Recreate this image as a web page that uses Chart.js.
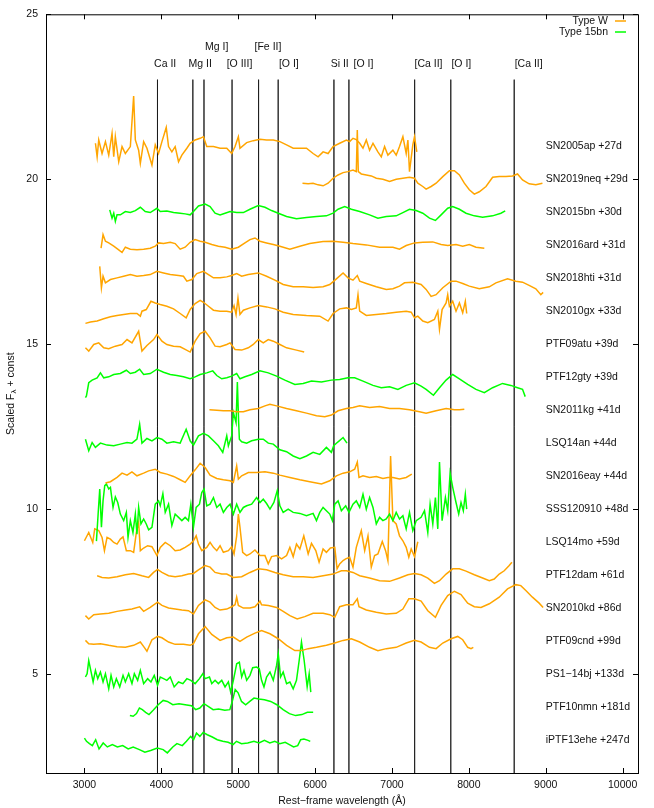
<!DOCTYPE html>
<html>
<head>
<meta charset="utf-8">
<script src="https://cdn.jsdelivr.net/npm/chart.js@4"></script>
<style>
  html, body { margin: 0; padding: 0; background: #fff; }
</style>
</head>
<body>
<canvas id="myChart" width="654" height="808"></canvas>
<script>
'use strict';

// tick values
const xTicks = [3000, 4000, 5000, 6000, 7000, 8000, 9000, 10000];
const yTicks = [5, 10, 15, 20, 25];

// marker lines (rest wavelength) and their labels
const lineWave = [3950, 4410, 4555, 4920, 5265, 5520, 6245, 6440, 7295, 7765, 8590];
const lineTop = 23.02;
const lineLabelText = ['Ca II', 'Mg II', 'Mg I]', '[O III]', '[Fe II]', '[O I]', 'Si II', '[O I]', '[Ca II]', '[O I]', '[Ca II]'];
const lineLabelWave = [4050, 4505, 4720, 5017, 5387, 5658, 6320, 6630, 7475, 7902, 8778];
const lineLabelLevel = [23.5, 23.5, 24.0, 23.5, 24.0, 23.5, 23.5, 23.5, 23.5, 23.5, 23.5];

// spectra: names, type, label level (offset const)
const specNames = ['SN2005ap +27d', 'SN2019neq +29d', 'SN2015bn +30d', 'SN2016ard +31d', 'SN2018hti +31d',
  'SN2010gx +33d', 'PTF09atu +39d', 'PTF12gty +39d', 'SN2011kg +41d', 'LSQ14an +44d', 'SN2016eay +44d',
  'SSS120910 +48d', 'LSQ14mo +59d', 'PTF12dam +61d', 'SN2010kd +86d', 'PTF09cnd +99d', 'PS1\u221214bj +133d',
  'PTF10nmn +181d', 'iPTF13ehe +247d'];
const specTypes = ['W', 'W', '15bn', 'W', 'W', 'W', 'W', '15bn', 'W', '15bn', 'W',
  '15bn', 'W', 'W', 'W', 'W', '15bn', '15bn', '15bn'];
const specLevels = [21, 20, 19, 18, 17, 16, 15, 14, 13, 12, 11, 10, 9, 8, 7, 6, 5, 4, 3];
const labelWave = 9000;

const sn2005apWave = [3143, 3165, 3186, 3229, 3273, 3316, 3359, 3381, 3402, 3446,
  3489, 3532, 3597, 3640, 3662, 3705, 3727, 3770, 3813, 3878,
  3921, 3964, 4008, 4064, 4094, 4137, 4180, 4224, 4267, 4332,
  4375, 4440, 4505, 4548, 4591, 4678, 4764, 4851, 4915, 4959,
  5002, 5023, 5110, 5196, 5283, 5369, 5456, 5542, 5629, 5715,
  5802, 5888, 5974, 6039, 6104, 6169, 6234, 6320, 6407, 6450,
  6493, 6536, 6580, 6623, 6666, 6709, 6753, 6817, 6861, 6904,
  6947, 7012, 7055, 7098, 7142, 7185, 7207, 7228, 7271, 7293,
  7323];
const sn2005apFlux = [21.09, 20.68, 21.19, 20.78, 21.14, 20.73, 21.39, 20.68, 21.29, 20.53,
  20.99, 20.78, 20.99, 22.52, 21.19, 20.88, 20.48, 21.14, 20.94, 20.43,
  21.04, 20.78, 21.14, 21.57, 20.99, 20.83, 20.99, 20.53, 20.73, 20.94,
  21.09, 21.19, 21.24, 21.29, 20.99, 20.99, 20.94, 20.94, 20.78, 20.99,
  21.29, 20.94, 21.11, 21.17, 21.21, 21.19, 21.19, 21.14, 21.04, 20.94,
  20.94, 20.94, 20.78, 20.68, 20.83, 20.78, 20.99, 21.09, 21.19, 21.14,
  21.24, 21.2, 21.09, 20.94, 21.19, 20.88, 21.09, 20.83, 20.68, 20.99,
  20.73, 20.88, 20.73, 20.99, 21.29, 20.78, 21.19, 20.23, 21.04, 21.29,
  20.83];

const sn2019neqWave = [5836, 5910, 5974, 6039, 6104, 6169, 6234, 6299, 6364, 6428,
  6493, 6536, 6549, 6562, 6601, 6666, 6731, 6796, 6882, 6969,
  7055, 7142, 7228, 7293, 7336, 7401, 7444, 7509, 7574, 7661,
  7747, 7812, 7877, 7941, 8006, 8071, 8136, 8223, 8309, 8395,
  8482, 8568, 8633, 8698, 8784, 8871, 8957];
const sn2019neqFlux = [19.88, 19.86, 19.88, 19.83, 19.80, 19.88, 20.03, 20.13, 20.20, 20.23,
  20.28, 20.23, 21.49, 20.23, 20.16, 20.13, 20.10, 20.03, 20.00, 19.93,
  20.00, 20.03, 20.06, 20.03, 19.88, 19.78, 19.70, 19.78, 19.88, 20.08,
  20.26, 20.26, 20.13, 19.88, 19.68, 19.55, 19.62, 19.78, 20.06, 20.08,
  20.08, 20.10, 20.16, 19.98, 19.86, 19.83, 19.88];

const sn2015bnWave = [3329, 3359, 3381, 3402, 3424, 3467, 3532, 3597, 3662, 3727,
  3791, 3856, 3943, 3986, 4072, 4159, 4245, 4310, 4375, 4418,
  4483, 4570, 4634, 4699, 4764, 4829, 4894, 4980, 5067, 5153,
  5261, 5348, 5434, 5521, 5629, 5758, 5888, 6018, 6147, 6234,
  6299, 6385, 6472, 6580, 6709, 6817, 6926, 7055, 7142, 7228,
  7315, 7401, 7488, 7565, 7639, 7725, 7790, 7877, 7963, 8071,
  8179, 8309, 8417, 8473];
const sn2015bnFlux = [19.07, 18.82, 18.97, 18.72, 18.92, 18.92, 19.02, 18.99, 19.05, 19.15,
  19.02, 18.99, 19.12, 19.02, 19.04, 18.99, 18.97, 18.95, 18.92, 19.02,
  19.19, 19.25, 19.17, 18.97, 18.92, 18.97, 19.02, 18.99, 18.99, 19.09,
  19.20, 19.15, 19.05, 18.97, 18.87, 18.80, 18.84, 18.87, 18.89, 18.97,
  19.09, 19.17, 19.09, 19.02, 18.92, 18.82, 18.87, 18.89, 18.99, 19.09,
  19.05, 18.97, 18.82, 18.75, 18.92, 19.12, 19.17, 19.09, 18.97, 18.89,
  18.85, 18.89, 18.97, 19.04];

const sn2016ardWave = [3216, 3242, 3273, 3316, 3381, 3446, 3489, 3532, 3597, 3683,
  3770, 3856, 3921, 3964, 4029, 4116, 4180, 4245, 4310, 4375,
  4440, 4505, 4570, 4656, 4742, 4829, 4915, 5002, 5088, 5153,
  5218, 5283, 5369, 5456, 5542, 5672, 5802, 5931, 6104, 6234,
  6364, 6493, 6666, 6839, 7012, 7098, 7185, 7293, 7401, 7531,
  7639, 7725, 7833, 7920, 8006, 8093, 8201];
const sn2016ardFlux = [17.91, 18.32, 18.12, 18.07, 17.97, 17.86, 17.78, 17.94, 17.88, 17.86,
  17.88, 17.91, 17.97, 18.07, 18.05, 18.09, 18.05, 17.88, 17.94, 18.09,
  18.17, 18.12, 18.09, 18.02, 17.97, 17.94, 17.88, 17.94, 18.07, 18.17,
  18.22, 18.12, 18.07, 18.02, 17.97, 17.88, 17.97, 18.05, 18.11, 18.12,
  18.09, 18.05, 18.01, 17.94, 17.94, 17.88, 17.99, 18.07, 18.09, 18.10,
  18.02, 17.99, 18.02, 17.97, 18.02, 17.94, 17.91];

const sn2018htiWave = [3199, 3221, 3242, 3273, 3338, 3424, 3510, 3597, 3683, 3770,
  3856, 3943, 4029, 4116, 4224, 4288, 4332, 4397, 4461, 4548,
  4613, 4678, 4764, 4851, 4915, 4980, 5045, 5131, 5261, 5369,
  5477, 5585, 5715, 5845, 5974, 6104, 6191, 6277, 6364, 6428,
  6493, 6549, 6580, 6666, 6796, 6926, 7012, 7098, 7163, 7271,
  7379, 7444, 7509, 7574, 7661, 7769, 7833, 7920, 8006, 8136,
  8266, 8352, 8503, 8611, 8698, 8784, 8871, 8936, 8966];
const sn2018htiFlux = [17.36, 16.71, 17.06, 16.86, 16.96, 17.01, 17.06, 17.11, 17.06, 17.08,
  17.11, 17.21, 17.16, 17.11, 17.08, 17.06, 16.91, 16.96, 17.14, 17.21,
  17.11, 17.01, 17.01, 17.04, 17.08, 17.14, 17.06, 17.11, 17.16, 17.06,
  16.94, 16.81, 16.74, 16.74, 16.72, 16.74, 16.81, 16.98, 17.16, 17.01,
  16.94, 17.08, 16.91, 16.84, 16.74, 16.66, 16.68, 16.76, 16.86, 16.88,
  16.81, 16.66, 16.45, 16.50, 16.71, 16.91, 16.91, 16.84, 16.76, 16.68,
  16.74, 16.86, 16.98, 16.91, 16.88, 16.78, 16.68, 16.50, 16.57];

const sn2010gxWave = [3013, 3078, 3165, 3251, 3338, 3424, 3510, 3597, 3683, 3727,
  3748, 3804, 3865, 3921, 3986, 4072, 4159, 4245, 4323, 4375,
  4440, 4505, 4548, 4613, 4678, 4764, 4851, 4915, 4946, 4972,
  4997, 5023, 5067, 5153, 5261, 5369, 5477, 5585, 5715, 5888,
  6061, 6169, 6234, 6320, 6407, 6472, 6536, 6558, 6580, 6666,
  6796, 6926, 7055, 7185, 7250, 7293, 7336, 7401, 7466, 7552,
  7596, 7618, 7652, 7704, 7725, 7747, 7790, 7833, 7877, 7920,
  7954, 7972];
const sn2010gxFlux = [15.63, 15.67, 15.70, 15.77, 15.83, 15.87, 15.90, 15.93, 15.93, 15.85,
  16.00, 16.05, 16.30, 16.25, 16.20, 16.15, 16.07, 15.93, 15.80, 16.05,
  16.23, 16.33, 16.27, 16.15, 16.03, 16.00, 16.00, 15.97, 16.17, 15.90,
  16.40, 15.90, 16.03, 16.10, 16.17, 16.13, 16.07, 15.97, 15.90, 15.87,
  15.85, 15.70, 15.93, 16.07, 16.10, 16.05, 16.10, 16.50, 16.00, 15.87,
  15.90, 15.93, 15.97, 16.00, 15.97, 15.80, 15.85, 15.70, 15.65, 15.75,
  16.00, 15.45, 16.05, 16.25, 16.50, 16.15, 16.30, 16.00, 16.25, 15.95,
  16.30, 15.93];

const ptf09atuWave = [3013, 3056, 3121, 3186, 3251, 3316, 3402, 3489, 3554, 3618,
  3705, 3748, 3813, 3899, 3943, 4008, 4072, 4159, 4245, 4310,
  4375, 4440, 4505, 4570, 4634, 4699, 4764, 4851, 4894, 4959,
  5045, 5131, 5196, 5261, 5326, 5391, 5456, 5542, 5629, 5758,
  5858];
const ptf09atuFlux = [14.89, 14.79, 14.99, 15.04, 14.89, 14.86, 14.94, 14.99, 15.14, 15.04,
  15.39, 14.79, 14.96, 15.14, 15.29, 15.09, 14.99, 14.94, 14.92, 14.84,
  14.76, 15.09, 15.32, 15.39, 15.19, 14.94, 14.92, 14.99, 15.04, 14.84,
  14.82, 14.89, 14.99, 15.14, 15.04, 15.14, 15.09, 14.99, 14.89, 14.82,
  14.76];

const ptf12gtyWave = [3013, 3026, 3056, 3100, 3165, 3208, 3251, 3316, 3381, 3467,
  3545, 3597, 3662, 3718, 3770, 3856, 3943, 4029, 4116, 4202,
  4288, 4375, 4440, 4505, 4591, 4669, 4721, 4786, 4851, 4915,
  4980, 5023, 5088, 5175, 5283, 5391, 5499, 5607, 5737, 5845,
  5953, 6083, 6212, 6320, 6428, 6515, 6623, 6753, 6861, 6969,
  7077, 7185, 7293, 7379, 7444, 7539, 7618, 7704, 7790, 7877,
  7985, 8093, 8201, 8309, 8438, 8546, 8633, 8698, 8733];
const ptf12gtyFlux = [13.38, 13.43, 13.83, 13.91, 13.98, 14.13, 13.98, 14.01, 14.08, 14.11,
  14.21, 14.11, 14.15, 14.24, 14.08, 14.11, 14.24, 14.15, 14.08, 14.05,
  14.01, 13.95, 14.01, 14.08, 14.13, 14.19, 14.05, 13.95, 13.98, 14.03,
  14.11, 13.95, 14.01, 14.08, 14.19, 14.13, 14.03, 13.91, 13.78, 13.81,
  13.88, 13.85, 13.91, 13.93, 13.98, 13.98, 13.88, 13.75, 13.68, 13.71,
  13.63, 13.75, 13.83, 13.73, 13.63, 13.45, 13.68, 13.91, 14.08, 13.95,
  13.78, 13.63, 13.53, 13.68, 13.81, 13.75, 13.68, 13.63, 13.41];

const sn2011kgWave = [4626, 4721, 4807, 4894, 4980, 5067, 5153, 5261, 5348, 5413,
  5499, 5629, 5758, 5888, 6018, 6126, 6212, 6299, 6407, 6493,
  6580, 6709, 6839, 6969, 7098, 7228, 7358, 7444, 7574, 7704,
  7812, 7877, 7941];
const sn2011kgFlux = [13.01, 13.00, 12.98, 12.98, 12.95, 12.95, 13.01, 13.05, 13.13, 13.18,
  13.13, 13.05, 12.98, 12.91, 12.83, 12.80, 12.85, 12.98, 13.05, 13.08,
  13.13, 13.08, 13.11, 13.05, 13.05, 13.01, 12.95, 12.91, 12.98, 13.05,
  13.01, 13.01, 13.03];

const lsq14anWave = [3013, 3056, 3100, 3143, 3208, 3294, 3381, 3467, 3554, 3618,
  3683, 3718, 3748, 3813, 3878, 3943, 4008, 4072, 4159, 4245,
  4323, 4375, 4418, 4483, 4548, 4613, 4678, 4742, 4799, 4851,
  4872, 4915, 4937, 4972, 4989, 5006, 5015, 5045, 5110, 5175,
  5261, 5326, 5391, 5456, 5542, 5629, 5715, 5802, 5888, 5974,
  6061, 6147, 6212, 6242, 6299, 6364, 6415];
const lsq14anFlux = [12.12, 11.77, 12.02, 11.87, 12.00, 11.94, 11.92, 11.97, 12.02, 12.00,
  12.12, 12.57, 12.00, 12.14, 12.07, 12.17, 12.12, 12.00, 12.04, 12.00,
  12.42, 12.07, 11.94, 12.22, 12.30, 12.22, 12.07, 11.92, 11.72, 12.22,
  11.92, 12.22, 12.93, 12.62, 13.85, 12.62, 12.12, 12.04, 12.00, 12.07,
  12.12, 12.12, 12.00, 11.97, 11.80, 11.74, 11.61, 11.53, 11.61, 11.72,
  11.66, 11.87, 11.72, 11.92, 12.04, 12.17, 12.00];

const sn2016eayWave = [3273, 3338, 3424, 3489, 3554, 3618, 3683, 3770, 3835, 3921,
  3986, 4072, 4159, 4245, 4310, 4375, 4440, 4505, 4570, 4634,
  4721, 4807, 4894, 4937, 4980, 5002, 5045, 5131, 5239, 5348,
  5456, 5542, 5672, 5802, 5931, 6083, 6191, 6277, 6364, 6450,
  6515, 6549, 6571, 6623, 6709, 6796, 6882, 6947, 7012, 7098,
  7185, 7258];
const sn2016eayFlux = [10.79, 10.83, 10.96, 11.09, 11.03, 11.13, 11.01, 11.09, 11.16, 11.21,
  11.11, 11.06, 10.99, 10.89, 10.81, 11.01, 11.19, 11.39, 11.26, 11.03,
  10.93, 10.89, 10.86, 10.81, 11.31, 10.91, 11.01, 11.11, 11.11, 11.13,
  11.09, 11.03, 10.96, 10.89, 10.83, 10.76, 10.86, 11.01, 11.09, 11.13,
  11.21, 11.43, 10.96, 11.01, 10.96, 10.99, 10.93, 10.96, 10.96, 10.91,
  10.96, 11.06];

const sss120910Wave = [3156, 3178, 3199, 3221, 3242, 3264, 3286, 3316, 3338, 3372,
  3402, 3433, 3467, 3510, 3545, 3567, 3597, 3631, 3662, 3683,
  3705, 3735, 3770, 3804, 3835, 3878, 3921, 3964, 3986, 4020,
  4051, 4094, 4137, 4180, 4224, 4267, 4310, 4353, 4384, 4418,
  4453, 4496, 4526, 4556, 4591, 4634, 4678, 4721, 4764, 4807,
  4851, 4894, 4937, 4980, 5023, 5067, 5110, 5175, 5239, 5283,
  5326, 5369, 5413, 5464, 5508, 5542, 5585, 5650, 5715, 5802,
  5888, 5974, 6018, 6061, 6104, 6147, 6191, 6225, 6256, 6299,
  6342, 6398, 6441, 6493, 6536, 6580, 6623, 6666, 6709, 6753,
  6796, 6839, 6882, 6926, 6969, 7012, 7055, 7098, 7142, 7185,
  7228, 7271, 7315, 7379, 7423, 7466, 7496, 7531, 7565, 7596,
  7618, 7652, 7695, 7725, 7756, 7790, 7833, 7868, 7898, 7928,
  7954, 7972];
const sss120910Flux = [9.03, 9.85, 10.61, 9.45, 10.25, 10.71, 10.76, 10.61, 10.66, 10.05,
  10.37, 10.20, 9.85, 9.65, 9.90, 9.14, 9.65, 9.29, 9.85, 9.24,
  10.05, 9.55, 9.70, 9.55, 9.37, 9.45, 10.15, 10.25, 10.10, 10.47,
  9.90, 10.15, 9.50, 9.85, 9.75, 9.65, 9.75, 9.65, 10.15, 9.45,
  10.05, 10.15, 10.50, 10.61, 10.10, 10.15, 10.35, 10.05, 10.15, 9.90,
  10.05, 10.15, 9.85, 10.15, 9.90, 10.05, 10.10, 10.15, 10.35, 10.20,
  10.30, 10.17, 10.00, 10.20, 10.56, 10.10, 9.90, 10.00, 9.90, 9.87,
  9.80, 9.87, 9.65, 9.90, 10.05, 9.95, 9.85, 9.65, 10.15, 10.25,
  9.95, 10.10, 9.90, 10.15, 10.25, 10.05, 10.45, 10.00, 10.35, 10.05,
  9.55, 9.75, 9.65, 9.70, 9.85, 9.65, 9.90, 9.70, 9.80, 9.40,
  9.90, 9.35, 9.65, 9.75, 9.95, 9.29, 10.15, 9.55, 10.35, 9.40,
  11.43, 9.65, 10.35, 9.95, 11.09, 10.66, 10.20, 9.85, 10.20, 9.95,
  10.45, 10.00];

const lsq14moWave = [3000, 3056, 3108, 3134, 3186, 3229, 3260, 3294, 3338, 3381,
  3424, 3467, 3502, 3545, 3597, 3640, 3675, 3705, 3727, 3770,
  3822, 3878, 3943, 3986, 4051, 4116, 4180, 4245, 4310, 4375,
  4418, 4453, 4483, 4526, 4591, 4634, 4678, 4721, 4764, 4807,
  4872, 4915, 4946, 4980, 5002, 5023, 5058, 5110, 5153, 5218,
  5283, 5348, 5391, 5434, 5499, 5564, 5629, 5672, 5715, 5758,
  5802, 5853, 5910, 5953, 6009, 6052, 6104, 6147, 6199, 6256,
  6286, 6320, 6364, 6398, 6450, 6493, 6536, 6601, 6645, 6688,
  6731, 6774, 6817, 6874, 6917, 6947, 6982, 7012, 7055, 7098,
  7142, 7185, 7219, 7250, 7293, 7336];
const lsq14moFlux = [9.04, 9.29, 8.99, 9.40, 9.35, 9.14, 8.74, 9.14, 9.09, 8.99,
  8.94, 9.09, 9.16, 8.74, 8.74, 8.69, 9.29, 9.60, 8.74, 8.82,
  8.89, 8.86, 8.59, 8.84, 8.99, 8.89, 8.74, 8.76, 8.84, 8.94,
  9.04, 9.19, 8.94, 8.74, 8.84, 8.99, 8.84, 8.74, 8.89, 8.69,
  8.74, 8.86, 8.64, 9.19, 9.85, 9.45, 8.69, 8.59, 8.64, 8.76,
  8.59, 8.59, 8.34, 8.56, 8.59, 8.49, 8.59, 8.84, 8.56, 8.94,
  8.79, 9.19, 8.64, 8.96, 8.74, 8.39, 8.79, 8.69, 8.82, 8.84,
  8.19, 8.34, 8.44, 8.49, 8.54, 8.24, 8.84, 9.35, 8.74, 9.19,
  8.24, 8.59, 8.64, 9.02, 8.74, 8.44, 11.61, 9.65, 9.55, 9.19,
  9.04, 8.84, 8.54, 8.79, 8.56, 9.01];

const ptf12damWave = [3165, 3229, 3316, 3424, 3532, 3640, 3748, 3835, 3899, 3951,
  4008, 4094, 4180, 4267, 4353, 4418, 4483, 4570, 4634, 4699,
  4786, 4851, 4937, 5045, 5153, 5261, 5369, 5477, 5585, 5715,
  5845, 5974, 6104, 6234, 6342, 6407, 6493, 6580, 6709, 6839,
  6969, 7098, 7207, 7293, 7379, 7466, 7552, 7618, 7704, 7790,
  7877, 7963, 8071, 8179, 8266, 8330, 8395, 8460, 8525, 8560];
const ptf12damFlux = [7.98, 7.93, 7.91, 7.95, 8.01, 8.05, 7.98, 7.93, 8.08, 8.17,
  8.08, 7.98, 7.95, 7.98, 8.03, 8.05, 8.16, 8.29, 8.24, 8.08,
  8.03, 8.03, 7.93, 7.95, 8.08, 8.19, 8.16, 8.08, 8.01, 7.95,
  7.95, 7.93, 7.98, 8.03, 8.13, 8.13, 8.08, 7.98, 7.91, 7.83,
  7.81, 7.91, 8.01, 8.05, 8.01, 7.91, 7.75, 7.83, 8.03, 8.19,
  8.19, 8.12, 8.01, 7.91, 7.83, 7.88, 8.03, 8.13, 8.29, 8.39];

const sn2010kdWave = [3013, 3056, 3121, 3208, 3316, 3424, 3532, 3618, 3718, 3770,
  3856, 3951, 4008, 4094, 4180, 4267, 4353, 4418, 4483, 4570,
  4634, 4699, 4764, 4851, 4915, 4959, 4980, 5002, 5067, 5153,
  5218, 5283, 5304, 5391, 5499, 5585, 5672, 5767, 5866, 5974,
  6104, 6191, 6256, 6320, 6407, 6493, 6549, 6571, 6666, 6796,
  6926, 7055, 7142, 7219, 7293, 7379, 7466, 7565, 7639, 7725,
  7812, 7898, 7985, 8071, 8158, 8266, 8395, 8503, 8611, 8676,
  8741, 8827, 8914, 8966];
const sn2010kdFlux = [6.77, 6.67, 6.80, 6.82, 6.84, 6.90, 6.94, 6.97, 7.04, 6.90,
  7.02, 7.18, 7.08, 7.00, 6.97, 6.94, 6.92, 6.82, 7.08, 7.25,
  7.18, 7.02, 6.94, 6.97, 7.04, 7.10, 7.33, 7.08, 7.00, 7.00,
  7.04, 7.21, 7.10, 7.08, 7.02, 6.90, 6.77, 6.67, 6.74, 6.84,
  6.84, 6.80, 6.72, 7.04, 7.10, 7.10, 7.28, 7.04, 6.94, 6.87,
  6.82, 6.84, 6.97, 7.28, 7.28, 7.21, 6.92, 6.72, 7.08, 7.38,
  7.51, 7.41, 7.15, 7.04, 7.02, 7.13, 7.33, 7.58, 7.71, 7.68,
  7.53, 7.33, 7.15, 7.02];

const ptf09cndWave = [3013, 3056, 3121, 3208, 3316, 3424, 3532, 3640, 3727, 3778,
  3813, 3878, 3951, 4008, 4094, 4180, 4288, 4375, 4418, 4483,
  4570, 4656, 4764, 4851, 4937, 5023, 5110, 5218, 5304, 5413,
  5521, 5629, 5737, 5823, 5910, 6018, 6147, 6256, 6364, 6472,
  6580, 6709, 6817, 6926, 7055, 7185, 7293, 7379, 7488, 7574,
  7661, 7769, 7855, 7920, 7985, 8028, 8058];
const ptf09cndFlux = [6.02, 5.92, 5.90, 5.92, 5.87, 5.83, 5.81, 5.87, 5.97, 5.81,
  5.69, 6.04, 6.14, 6.10, 5.97, 5.90, 5.90, 5.87, 5.92, 6.22,
  6.44, 6.20, 6.02, 6.10, 6.12, 5.99, 6.12, 6.24, 6.32, 6.22,
  6.07, 5.87, 5.71, 5.71, 5.77, 5.81, 5.87, 5.94, 6.02, 6.07,
  5.97, 5.81, 5.71, 5.77, 5.81, 5.94, 6.02, 5.97, 5.81, 5.77,
  5.94, 6.07, 6.14, 6.04, 5.81, 5.77, 5.81];

const ps114bjWave = [3013, 3035, 3056, 3087, 3113, 3143, 3173, 3208, 3242, 3273,
  3316, 3346, 3381, 3415, 3459, 3502, 3532, 3575, 3618, 3649,
  3692, 3727, 3770, 3822, 3865, 3908, 3951, 3986, 4029, 4072,
  4116, 4167, 4224, 4280, 4332, 4384, 4440, 4496, 4539, 4570,
  4626, 4656, 4699, 4742, 4786, 4829, 4872, 4902, 4937, 4980,
  5015, 5045, 5075, 5110, 5153, 5188, 5239, 5274, 5304, 5335,
  5369, 5413, 5456, 5499, 5521, 5551, 5585, 5629, 5672, 5715,
  5758, 5793, 5823, 5858, 5897, 5923, 5944];
const ps114bjFlux = [4.91, 5.01, 5.41, 5.06, 4.76, 5.11, 4.86, 5.06, 4.76, 5.01,
  4.55, 4.96, 4.61, 4.86, 4.61, 4.96, 4.76, 5.01, 4.71, 5.01,
  4.81, 5.11, 4.71, 4.86, 4.76, 4.96, 4.66, 4.91, 4.86, 4.81,
  4.91, 4.61, 4.76, 4.71, 4.86, 4.81, 4.71, 4.86, 5.01, 4.86,
  4.91, 4.71, 4.81, 4.71, 4.81, 4.61, 4.76, 4.45, 4.81, 5.31,
  5.36, 4.91, 5.11, 4.81, 4.96, 5.19, 5.21, 5.16, 4.81, 4.61,
  4.91, 5.06, 4.81, 5.26, 5.61, 4.91, 5.06, 4.71, 4.76, 4.55,
  4.81, 5.41, 5.97, 5.41, 4.61, 5.01, 4.45];

const ptf10nmnWave = [3591, 3634, 3677, 3715, 3753, 3796, 3840, 3894, 3959, 4024,
  4078, 4149, 4230, 4311, 4392, 4447, 4501, 4555, 4609, 4674,
  4745, 4826, 4891, 4923, 4961, 4999, 5043, 5097, 5151, 5205,
  5270, 5341, 5422, 5503, 5584, 5666, 5747, 5828, 5899, 5975];
const ptf10nmnFlux = [3.74, 3.72, 3.80, 3.97, 3.92, 3.84, 3.77, 3.90, 4.07, 4.20,
  4.17, 4.07, 4.10, 4.07, 4.04, 3.92, 3.97, 4.10, 4.02, 3.92,
  3.94, 3.90, 3.92, 4.17, 4.53, 4.43, 4.17, 4.07, 4.17, 4.27,
  4.24, 4.22, 4.17, 4.07, 3.92, 3.80, 3.74, 3.77, 3.84, 3.84];

const iptf13eheWave = [3000, 3027, 3065, 3103, 3146, 3190, 3244, 3298, 3363, 3428,
  3498, 3569, 3634, 3715, 3786, 3861, 3948, 4024, 4078, 4149,
  4203, 4273, 4327, 4382, 4420, 4457, 4501, 4544, 4598, 4663,
  4728, 4799, 4869, 4934, 4978, 5043, 5124, 5205, 5270, 5341,
  5411, 5476, 5541, 5611, 5666, 5720, 5774, 5812, 5855, 5909,
  5937];
const iptf13eheFlux = [3.06, 2.96, 2.89, 2.83, 3.01, 2.73, 2.91, 2.79, 2.86, 2.79,
  2.83, 2.73, 2.79, 2.71, 2.63, 2.68, 2.76, 2.71, 2.61, 2.79,
  2.89, 2.83, 2.96, 3.11, 3.01, 3.21, 3.11, 3.23, 3.16, 3.09,
  3.01, 2.96, 2.93, 2.86, 2.96, 2.89, 2.91, 2.96, 2.91, 2.99,
  2.91, 2.96, 2.89, 2.93, 2.86, 2.79, 2.83, 3.01, 3.03, 2.99,
  2.96];

const specWaves = [sn2005apWave, sn2019neqWave, sn2015bnWave, sn2016ardWave, sn2018htiWave,
  sn2010gxWave, ptf09atuWave, ptf12gtyWave, sn2011kgWave, lsq14anWave, sn2016eayWave,
  sss120910Wave, lsq14moWave, ptf12damWave, sn2010kdWave, ptf09cndWave, ps114bjWave,
  ptf10nmnWave, iptf13eheWave];
const specFluxes = [sn2005apFlux, sn2019neqFlux, sn2015bnFlux, sn2016ardFlux, sn2018htiFlux,
  sn2010gxFlux, ptf09atuFlux, ptf12gtyFlux, sn2011kgFlux, lsq14anFlux, sn2016eayFlux,
  sss120910Flux, lsq14moFlux, ptf12damFlux, sn2010kdFlux, ptf09cndFlux, ps114bjFlux,
  ptf10nmnFlux, iptf13eheFlux];

const typeColor = {W: '#ffa500', '15bn': '#00ff00'};
const FONT = '"Liberation Sans", Arial, sans-serif';

let datasets = [];
for (let i = 0; i < specNames.length; i++) {
  let pts = [];
  let n = Math.min(specWaves[i].length, specFluxes[i].length);
  for (let j = 0; j < n; j++) {
    pts.push({x: specWaves[i][j], y: specFluxes[i][j]});
  }
  datasets.push({
    label: specNames[i],
    data: pts,
    borderColor: typeColor[specTypes[i]],
    borderWidth: 1.5,
    pointRadius: 0,
    tension: 0,
    order: 1
  });
}
// vertical marker lines: higher order is drawn first, so they stay behind the spectra
for (let i = 0; i < lineWave.length; i++) {
  datasets.push({
    label: 'line' + i,
    data: [{x: lineWave[i], y: lineTop}, {x: lineWave[i], y: 2}],
    borderColor: 'rgba(0,0,0,0.55)',
    borderWidth: 1,
    pointRadius: 0,
    order: 10
  });
}

const decorPlugin = {
  id: 'decor',
  afterDraw(chart) {
    const ctx = chart.ctx;
    const a = chart.chartArea;
    const x = chart.scales.x;
    const y = chart.scales.y;
    ctx.save();

    // frame
    ctx.strokeStyle = '#000';
    ctx.lineWidth = 1;
    ctx.strokeRect(a.left + 0.5, a.top + 0.5, a.right - a.left, a.bottom - a.top);

    // inward ticks on all sides
    ctx.beginPath();
    xTicks.forEach(v => {
      let px = Math.round(x.getPixelForValue(v)) + 0.5;
      ctx.moveTo(px, a.bottom); ctx.lineTo(px, a.bottom - 5);
      ctx.moveTo(px, a.top); ctx.lineTo(px, a.top + 5);
    });
    yTicks.forEach(v => {
      let py = Math.round(y.getPixelForValue(v)) + 0.5;
      ctx.moveTo(a.left, py); ctx.lineTo(a.left + 5, py);
      ctx.moveTo(a.right, py); ctx.lineTo(a.right - 5, py);
    });
    ctx.stroke();

    ctx.fillStyle = '#111';
    ctx.font = '10.5px ' + FONT;
    ctx.textBaseline = 'middle';

    // line identifications
    ctx.textAlign = 'center';
    for (let i = 0; i < lineLabelText.length; i++) {
      ctx.fillText(lineLabelText[i], x.getPixelForValue(lineLabelWave[i]), y.getPixelForValue(lineLabelLevel[i]));
    }

    // spectrum names
    ctx.textAlign = 'left';
    for (let i = 0; i < specNames.length; i++) {
      ctx.fillText(specNames[i], x.getPixelForValue(labelWave), y.getPixelForValue(specLevels[i]));
    }

    // key
    let keyItems = [['Type W', typeColor.W], ['Type 15bn', typeColor['15bn']]];
    ctx.textAlign = 'right';
    keyItems.forEach((k, i) => {
      let ky = 21 + i * 11;
      ctx.fillStyle = '#111';
      ctx.fillText(k[0], 608, ky);
      ctx.strokeStyle = k[1];
      ctx.lineWidth = 1.5;
      ctx.beginPath();
      ctx.moveTo(615, ky); ctx.lineTo(626, ky);
      ctx.stroke();
    });

    // axis titles
    ctx.fillStyle = '#111';
    ctx.textAlign = 'center';
    ctx.fillText('Rest\u2212frame wavelength (\u00c5)', (a.left + a.right) / 2, 801);

    ctx.translate(11, (a.top + a.bottom) / 2);
    ctx.rotate(-Math.PI / 2);
    let p1 = 'Scaled F', p2 = '\u03bb', p3 = ' + const';
    ctx.font = '10.5px ' + FONT;
    let w1 = ctx.measureText(p1).width, w3 = ctx.measureText(p3).width;
    ctx.font = '8px ' + FONT;
    let w2 = ctx.measureText(p2).width;
    let sx = -(w1 + w2 + w3) / 2;
    ctx.textAlign = 'left';
    ctx.font = '10.5px ' + FONT;
    ctx.fillText(p1, sx, 0);
    ctx.font = '8px ' + FONT;
    ctx.fillText(p2, sx + w1, 3);
    ctx.font = '10.5px ' + FONT;
    ctx.fillText(p3, sx + w1 + w2, 0);

    ctx.restore();
  }
};

let ctx = document.getElementById('myChart').getContext('2d');
let myChart = new Chart(ctx, {
  type: 'line',
  data: {datasets: datasets},
  options: {
    responsive: false,
    animation: false,
    devicePixelRatio: 1,
    layout: {padding: {top: 12, right: 16, left: 0, bottom: 0}},
    plugins: {legend: {display: false}, tooltip: {enabled: false}},
    scales: {
      x: {
        type: 'linear',
        min: 2500,
        max: 10200,
        grid: {display: false, drawTicks: false},
        border: {display: false},
        ticks: {color: '#111', font: {family: FONT, size: 10.5}, padding: 6, maxRotation: 0, autoSkip: false,
          callback: v => String(v)},
        afterBuildTicks: s => { s.ticks = xTicks.map(v => ({value: v})); },
        afterFit: s => { s.height = 35; }
      },
      y: {
        type: 'linear',
        min: 2,
        max: 25,
        grid: {display: false, drawTicks: false},
        border: {display: false},
        ticks: {color: '#111', font: {family: FONT, size: 10.5}, padding: 8, callback: v => String(v)},
        afterBuildTicks: s => { s.ticks = yTicks.map(v => ({value: v})); },
        afterFit: s => { s.width = 46; }
      }
    }
  },
  plugins: [decorPlugin]
});
</script>
</body>
</html>
